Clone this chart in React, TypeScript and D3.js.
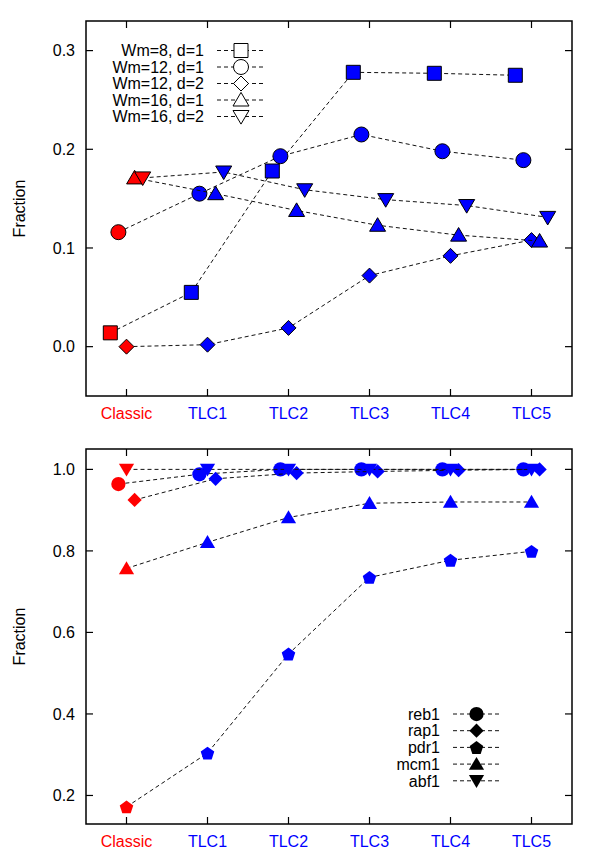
import React from "react";
import * as d3 from "d3";

const categories = ["Classic", "TLC1", "TLC2", "TLC3", "TLC4", "TLC5"];

const topNames = ["Wm=8, d=1", "Wm=12, d=1", "Wm=12, d=2", "Wm=16, d=1", "Wm=16, d=2"];
const topShapes = ["square", "circle", "diamond", "triUp", "triDown"];
const topOffsets = [-0.2, -0.1, 0, 0.1, 0.2];
const topWm8d1 = [0.014, 0.055, 0.178, 0.278, 0.277, 0.275];
const topWm12d1 = [0.116, 0.155, 0.193, 0.215, 0.198, 0.189];
const topWm12d2 = [0.0, 0.002, 0.019, 0.072, 0.092, 0.108];
const topWm16d1 = [0.171, 0.155, 0.138, 0.123, 0.113, 0.107];
const topWm16d2 = [0.171, 0.177, 0.159, 0.149, 0.143, 0.131];
const topValues = [topWm8d1, topWm12d1, topWm12d2, topWm16d1, topWm16d2];
const topTicks = [0.0, 0.1, 0.2, 0.3];

const botNames = ["reb1", "rap1", "pdr1", "mcm1", "abf1"];
const botShapes = ["circle", "diamond", "pentagon", "triUp", "triDown"];
const botOffsets = [-0.1, 0.1, 0, 0, 0];
const botReb1 = [0.964, 0.988, 1.0, 1.0, 1.0, 1.0];
const botRap1 = [0.925, 0.977, 0.991, 0.995, 0.998, 1.0];
const botPdr1 = [0.172, 0.304, 0.547, 0.735, 0.777, 0.799];
const botMcm1 = [0.757, 0.821, 0.882, 0.917, 0.92, 0.92];
const botAbf1 = [1.0, 1.0, 1.0, 1.0, 1.0, 1.0];
const botValues = [botReb1, botRap1, botPdr1, botMcm1, botAbf1];
const botTicks = [0.2, 0.4, 0.6, 0.8, 1.0];

const FONT = "'Liberation Sans', Arial, Helvetica, sans-serif";
const FS = 16;
const RED = "#ff0000";
const BLUE = "#0000ff";

function shapePath(type: string, r: number): string {
  const p = d3.path();
  if (type === "square") {
    p.rect(-r, -r, 2 * r, 2 * r);
  } else if (type === "circle") {
    p.moveTo(r, 0);
    p.arc(0, 0, r, 0, Math.PI * 2);
    p.closePath();
  } else if (type === "diamond") {
    p.moveTo(0, -r);
    p.lineTo(r, 0);
    p.lineTo(0, r);
    p.lineTo(-r, 0);
    p.closePath();
  } else if (type === "triUp") {
    p.moveTo(0, -r * 0.95);
    p.lineTo(r * 1.0, r * 0.75);
    p.lineTo(-r * 1.0, r * 0.75);
    p.closePath();
  } else if (type === "triDown") {
    p.moveTo(0, r * 0.95);
    p.lineTo(r * 1.0, -r * 0.75);
    p.lineTo(-r * 1.0, -r * 0.75);
    p.closePath();
  } else if (type === "pentagon") {
    for (let i = 0; i < 5; i++) {
      const a = -Math.PI / 2 + (i * 2 * Math.PI) / 5;
      const x = r * Math.cos(a);
      const y = r * Math.sin(a) + r * 0.1;
      if (i === 0) p.moveTo(x, y);
      else p.lineTo(x, y);
    }
    p.closePath();
  }
  return p.toString();
}

const shapeSize: Record<string, number> = {
  square: 7,
  circle: 7.5,
  diamond: 7.5,
  triUp: 8,
  triDown: 8,
  pentagon: 7.5,
};

type PanelProps = {
  top: number;
  bottom: number;
  domain: [number, number];
  ticks: number[];
  values: number[][];
  shapes: string[];
  offsets: number[];
  outlined: boolean;
  sizeScale: number;
};

function Panel(props: PanelProps) {
  const { top, bottom, domain, ticks, values, shapes, offsets, outlined, sizeScale } = props;
  const left = 86;
  const right = 572;
  const x = d3.scaleLinear().domain([-0.5, 5.5]).range([left, right]);
  const y = d3.scaleLinear().domain(domain).range([bottom, top]);
  const line = d3
    .line<[number, number]>()
    .x((d) => d[0])
    .y((d) => d[1]);
  const tickLen = 7;
  return (
    <g>
      <rect x={left} y={top} width={right - left} height={bottom - top} fill="none" stroke="#000" strokeWidth={1.5} />
      {ticks.map((t) => (
        <g key={"yt" + t}>
          <line x1={left} x2={left + tickLen} y1={y(t)} y2={y(t)} stroke="#000" strokeWidth={1.2} />
          <line x1={right} x2={right - tickLen} y1={y(t)} y2={y(t)} stroke="#000" strokeWidth={1.2} />
          <text x={75} y={y(t)} dy="0.36em" textAnchor="end" fontFamily={FONT} fontSize={FS} fill="#000">
            {t.toFixed(1)}
          </text>
        </g>
      ))}
      {categories.map((c, i) => (
        <g key={"xt" + c}>
          <line x1={x(i)} x2={x(i)} y1={bottom} y2={bottom - tickLen} stroke="#000" strokeWidth={1.2} />
          <line x1={x(i)} x2={x(i)} y1={top} y2={top + tickLen} stroke="#000" strokeWidth={1.2} />
          <text x={x(i)} y={bottom + 17} dy="0.36em" textAnchor="middle" fontFamily={FONT} fontSize={FS} fill={i === 0 ? RED : BLUE}>
            {c}
          </text>
        </g>
      ))}
      <text
        transform={`translate(19,${(top + bottom) / 2}) rotate(-90)`}
        textAnchor="middle"
        dy="0.36em"
        fontFamily={FONT}
        fontSize={FS}
        fill="#000"
      >
        Fraction
      </text>
      {values.map((vals, s) => {
        const pts: [number, number][] = vals.map((v, i) => [x(i + offsets[s]), y(v)]);
        return (
          <g key={"s" + s}>
            <path d={line(pts) || ""} fill="none" stroke="#111" strokeWidth={1} strokeDasharray="4,3" />
            {pts.map((p, i) => (
              <path
                key={i}
                d={shapePath(shapes[s], shapeSize[shapes[s]] * sizeScale)}
                transform={`translate(${p[0]},${p[1]})`}
                fill={i === 0 ? RED : BLUE}
                stroke={outlined ? "#000" : "none"}
                strokeWidth={outlined ? 1 : 0}
              />
            ))}
          </g>
        );
      })}
    </g>
  );
}

type LegendProps = {
  names: string[];
  shapes: string[];
  textX: number;
  lineX1: number;
  lineX2: number;
  y0: number;
  dy: number;
  open: boolean;
  sizeScale: number;
};

function Legend(props: LegendProps) {
  const { names, shapes, textX, lineX1, lineX2, y0, dy, open, sizeScale } = props;
  const cx = (lineX1 + lineX2) / 2;
  return (
    <g>
      {names.map((n, i) => {
        const yy = y0 + i * dy;
        return (
          <g key={n}>
            <text x={textX} y={yy} dy="0.36em" textAnchor="end" fontFamily={FONT} fontSize={FS} fill="#000">
              {n}
            </text>
            <line x1={lineX1} x2={lineX2} y1={yy} y2={yy} stroke="#111" strokeWidth={1} strokeDasharray="4,3" />
            <path
              d={shapePath(shapes[i], shapeSize[shapes[i]] * sizeScale)}
              transform={`translate(${cx},${yy})`}
              fill={open ? "#fff" : "#000"}
              stroke={open ? "#000" : "none"}
              strokeWidth={1}
            />
          </g>
        );
      })}
    </g>
  );
}

export default function App() {
  return (
    <svg
      width={600}
      height={857}
      viewBox="0 0 600 857"
      style={{ position: "absolute", left: 0, top: 0, background: "#fff" }}
    >
      <rect x={0} y={0} width={600} height={857} fill="#fff" />
      <Panel
        top={21}
        bottom={396}
        domain={[-0.05, 0.33]}
        ticks={topTicks}
        values={topValues}
        shapes={topShapes}
        offsets={topOffsets}
        outlined={true}
        sizeScale={1}
      />
      <Legend
        names={topNames}
        shapes={topShapes}
        textX={204}
        lineX1={217}
        lineX2={265}
        y0={50.5}
        dy={16.5}
        open={true}
        sizeScale={1}
      />
      <Panel
        top={449}
        bottom={824}
        domain={[0.13, 1.05]}
        ticks={botTicks}
        values={botValues}
        shapes={botShapes}
        offsets={botOffsets}
        outlined={false}
        sizeScale={0.95}
      />
      <Legend
        names={botNames}
        shapes={botShapes}
        textX={440}
        lineX1={453}
        lineX2={500}
        y0={714}
        dy={16.7}
        open={false}
        sizeScale={0.95}
      />
    </svg>
  );
}
